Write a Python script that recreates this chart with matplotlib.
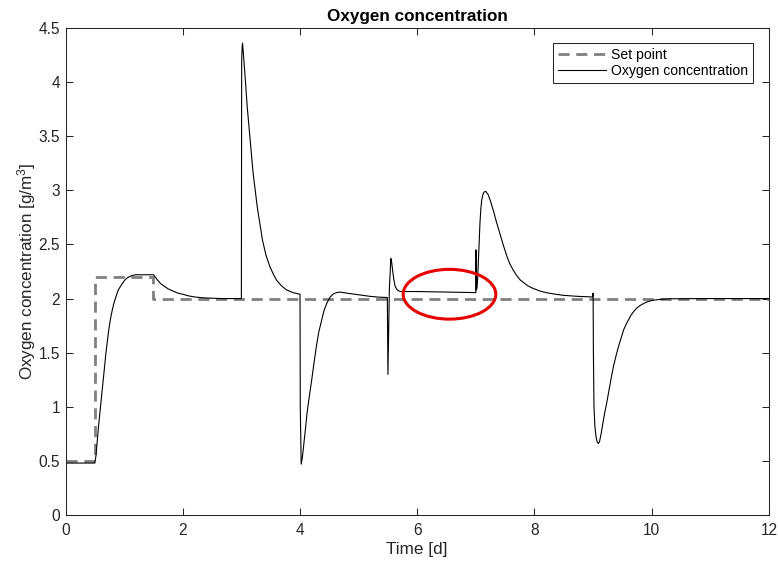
import matplotlib
matplotlib.use('Agg')
import matplotlib.pyplot as plt
from matplotlib.patches import Ellipse

plt.rcParams['font.family'] = ['Liberation Sans', 'DejaVu Sans']
plt.rcParams['mathtext.fontset'] = 'custom'
plt.rcParams['mathtext.rm'] = 'Liberation Sans'
plt.rcParams['mathtext.it'] = 'Liberation Sans'

# Set point (step function)
t_sp = [0.0, 0.5, 1.5, 12.0]
sp = [0.5, 2.2, 2.0, 2.0]

# Oxygen concentration
t_o2 = [0.00, 0.50, 0.52, 0.54, 0.56, 0.58, 0.60, 0.625, 0.65, 0.67,
        0.69, 0.715, 0.74, 0.77, 0.80, 0.825, 0.85, 0.875, 0.90, 0.935,
        0.97, 1.01, 1.05, 1.10, 1.15, 1.20, 1.50,
        1.53, 1.57, 1.62, 1.68, 1.75, 1.83, 1.92, 2.00, 2.10, 2.20,
        2.35, 2.50, 2.70, 3.00,
        3.005, 3.015, 3.02, 3.06, 3.10, 3.15, 3.20, 3.27, 3.36, 3.42,
        3.49, 3.55, 3.60, 3.68, 3.77, 3.88, 4.00,
        4.005, 4.02, 4.04, 4.06, 4.09, 4.12, 4.16, 4.20, 4.24, 4.28,
        4.32, 4.37, 4.41, 4.46, 4.51, 4.56, 4.62, 4.68, 4.80, 5.00,
        5.20, 5.35, 5.49,
        5.50, 5.525, 5.55, 5.565, 5.58, 5.60, 5.62, 5.645, 5.67, 5.70,
        5.72, 6.00, 6.50, 7.00,
        7.003, 7.008, 7.02, 7.03, 7.04, 7.055, 7.07, 7.085, 7.10, 7.12,
        7.14, 7.17, 7.21, 7.25, 7.30, 7.35, 7.41, 7.47, 7.53, 7.58,
        7.64, 7.70, 7.76, 7.81, 7.88, 7.95, 8.09, 8.20, 8.30, 8.49,
        8.75, 8.99,
        9.00, 9.005, 9.015, 9.03, 9.05, 9.07, 9.09, 9.11, 9.14, 9.17,
        9.20, 9.23, 9.27, 9.31, 9.35, 9.40, 9.44, 9.48, 9.52, 9.57,
        9.61, 9.65, 9.70, 9.74, 9.80, 9.88, 9.95, 10.03, 10.15, 10.30,
        11.00, 12.00]
o2 = [0.48, 0.48, 0.55, 0.68, 0.80, 0.91, 1.02, 1.15, 1.28, 1.39,
      1.50, 1.61, 1.72, 1.82, 1.90, 1.955, 2.00, 2.04, 2.08, 2.11,
      2.14, 2.17, 2.19, 2.205, 2.215, 2.22, 2.22,
      2.20, 2.17, 2.14, 2.115, 2.09, 2.07, 2.05, 2.04, 2.025, 2.015,
      2.007, 2.003, 2.00, 2.00,
      4.20, 4.34, 4.36, 4.08, 3.77, 3.47, 3.16, 2.85, 2.54, 2.40,
      2.29, 2.22, 2.17, 2.12, 2.08, 2.055, 2.04,
      1.00, 0.47, 0.53, 0.63, 0.78, 0.94, 1.10, 1.25, 1.41, 1.56,
      1.69, 1.80, 1.89, 1.96, 2.01, 2.04, 2.055, 2.06, 2.05, 2.035,
      2.02, 2.013, 2.01,
      1.30, 2.10, 2.37, 2.33, 2.26, 2.18, 2.12, 2.09, 2.075, 2.067,
      2.065, 2.065, 2.06, 2.055,
      2.45, 2.08, 2.10, 2.18, 2.30, 2.50, 2.70, 2.83, 2.91, 2.96,
      2.985, 2.99, 2.96, 2.90, 2.81, 2.71, 2.60, 2.49, 2.39, 2.32,
      2.26, 2.21, 2.17, 2.15, 2.12, 2.10, 2.07, 2.055, 2.045, 2.03,
      2.02, 2.015,
      2.05, 1.50, 1.00, 0.82, 0.72, 0.675, 0.66, 0.68, 0.76, 0.86,
      0.95, 1.03, 1.15, 1.27, 1.38, 1.49, 1.57, 1.64, 1.71, 1.77,
      1.81, 1.85, 1.885, 1.91, 1.935, 1.96, 1.975, 1.985, 1.993, 1.998,
      2.00, 2.00]

x_ticks = [0, 2, 4, 6, 8, 10, 12]
y_ticks = [0, 0.5, 1, 1.5, 2, 2.5, 3, 3.5, 4, 4.5]
y_tick_labels = ['0', '0.5', '1', '1.5', '2', '2.5', '3', '3.5', '4', '4.5']

axcol = '#262626'

fig = plt.figure(figsize=(7.78, 5.65), dpi=100, facecolor='white')
ax = fig.add_axes([0.0842, 0.0885, 0.9042, 0.8619])

ax.plot(t_sp, sp, drawstyle='steps-post', color=(0.5, 0.5, 0.5),
        linewidth=2.0, linestyle=(0, (4.0, 2.4)), label='Set point')
ax.plot(t_o2, o2, color='black', linewidth=0.8,
        label='Oxygen concentration')

# red highlight ellipse
ax.add_patch(Ellipse((6.55, 2.04), 1.58, 0.46, fill=False,
                     edgecolor=(0.9, 0.0, 0.0), linewidth=2.2, zorder=5))

ax.set_xlim(0, 12)
ax.set_ylim(0, 4.5)
ax.set_xticks(x_ticks)
ax.set_xticklabels([str(v) for v in x_ticks])
ax.set_yticks(y_ticks)
ax.set_yticklabels(y_tick_labels)
ax.tick_params(direction='in', length=5, width=0.75, colors=axcol,
               labelsize=11.2, top=True, right=True)
ax.tick_params(axis='x', pad=6)
ax.tick_params(axis='y', pad=4)
for s in ax.spines.values():
    s.set_color(axcol)
    s.set_linewidth(0.75)

ax.set_xlabel('Time [d]', fontsize=12.3, color=axcol, labelpad=3)
ax.set_ylabel('Oxygen concentration [g/m$^3$]', fontsize=12.3,
              color=axcol, labelpad=0)
ax.set_title('Oxygen concentration', fontsize=12.3, fontweight='bold',
             pad=5)

leg = ax.legend(loc='upper right', bbox_to_anchor=(0.978, 0.970),
                borderaxespad=0, fontsize=10.1, fancybox=False,
                framealpha=1, edgecolor=axcol, handlelength=3.4,
                handletextpad=0.4, labelspacing=0.15, borderpad=0.35)
leg.get_frame().set_linewidth(0.75)

fig.savefig('out.png', dpi=100)
